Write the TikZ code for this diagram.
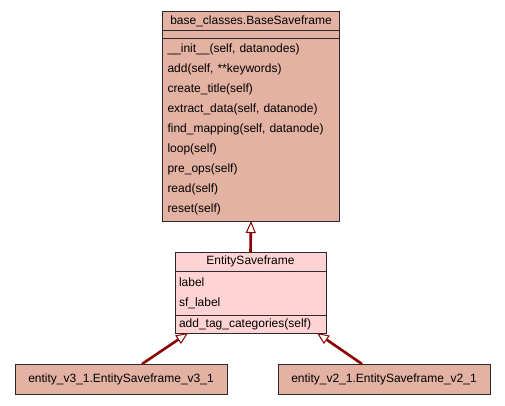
\documentclass[tikz,border=0pt]{standalone}
\usepackage{fontspec}
\setmainfont{Liberation Sans}
\usetikzlibrary{arrows.meta,positioning,calc}
\definecolor{Salmon}{HTML}{E3B2A3}
\definecolor{Blush}{HTML}{FFD3D4}
\definecolor{Maroon}{HTML}{8B0000}
\definecolor{Frame}{HTML}{2A2A2A}
\tikzset{
  umlpart/.style={
    draw=Frame,line width=1pt,fill=Salmon,inner sep=0pt,outer sep=0pt,
    font=\fontsize{12}{20}\selectfont,text=black
  },
  basebox/.style={umlpart,minimum width=177pt,text width=167pt,align=left},
  entitybox/.style={umlpart,fill=Blush,minimum width=151pt,text width=143pt,align=left},
  leafbox/.style={umlpart,minimum width=212pt,minimum height=30pt,align=center},
  inherit/.style={
    -{Triangle[open,length=12pt,width=10pt,line width=1pt,fill=white]},
    line width=2.6pt,draw=Maroon
  }
}
\begin{document}
\begin{tikzpicture}[x=1pt,y=-1pt]
  \fill[white] (0,0) rectangle (505,405);
  \useasboundingbox (0,0) rectangle (505,405);

  % base class
  \node[basebox,align=center,minimum height=19pt] (base) at (251,21) {base\_classes.BaseSaveframe};
  \node[basebox,minimum height=8pt] (baseattr) at (251,34) {};
  \node[basebox,minimum height=183pt] (baseops) at (251,129.5) {%
    \_\_init\_\_(self, datanodes)\\
    add(self, **keywords)\\
    create\_title(self)\\
    extract\_data(self, datanode)\\
    find\_mapping(self, datanode)\\
    loop(self)\\
    pre\_ops(self)\\
    read(self)\\
    reset(self)};

  % middle class
  \node[entitybox,align=center,minimum height=19pt] (entity) at (250.5,261.5) {EntitySaveframe};
  \node[entitybox,minimum height=44pt] (entityattr) at (250.5,293) {label\\sf\_label};
  \node[entitybox,minimum height=18pt] (entityops) at (250.5,324) {add\_tag\_categories(self)};

  % subclasses
  \node[leafbox] (v3) at (121,379) {entity\_v3\_1.EntitySaveframe\_v3\_1};
  \node[leafbox] (v2) at (384,379) {entity\_v2\_1.EntitySaveframe\_v2\_1};

  \draw[inherit] (entity.north) -- (baseops.south);
  \draw[inherit] ($(v3.north)+(21,0)$) -- ($(entityops.south)+(-62.5,0)$);
  \draw[inherit] ($(v2.north)+(-22,0)$) -- ($(entityops.south)+(66.5,0)$);
\end{tikzpicture}
\end{document}
